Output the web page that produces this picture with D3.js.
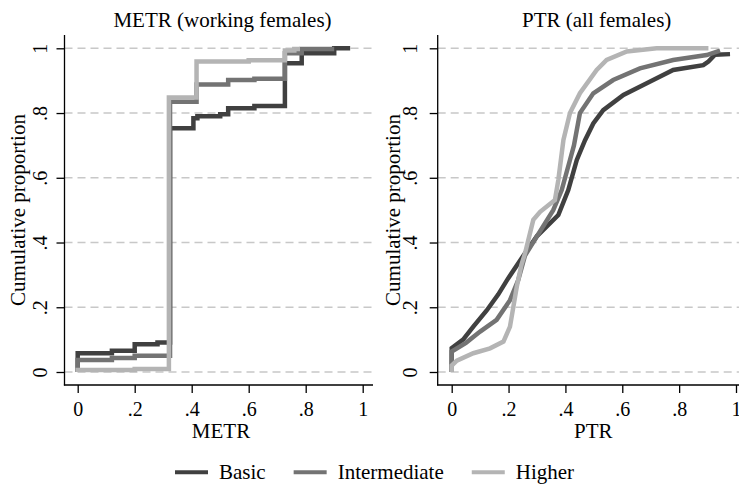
<!DOCTYPE html>
<html>
<head>
<meta charset="utf-8">
<script src="https://cdn.jsdelivr.net/npm/d3@7"></script>
<style>
  html, body { margin: 0; padding: 0; background: #fff; }
  svg { display: block; }
  svg text { font-family: 'Liberation Serif', 'DejaVu Serif', serif !important; fill: #000; }
</style>
</head>
<body>
<svg id="chart" width="739" height="486"></svg>
<script>
// ---------------- DATA ----------------
const seriesNames = ["Basic", "Intermediate", "Higher"];
const seriesColors = ["#404040", "#737373", "#b4b4b4"];
const tickValues = [0, 0.2, 0.4, 0.6, 0.8, 1];
const tickLabels = ["0", ".2", ".4", ".6", ".8", "1"];
const panelTitles = ["METR (working females)", "PTR (all females)"];
const xTitles = ["METR", "PTR"];
const yTitle = "Cumulative proportion";

// METR (working females) – empirical CDFs (step functions)
const metrBasicX = [0, 0, 0.12, 0.2, 0.28, 0.324, 0.406, 0.42, 0.5, 0.528, 0.62, 0.727, 0.786, 0.9, 0.956];
const metrBasicY = [0, 0.058, 0.066, 0.086, 0.091, 0.753, 0.784, 0.79, 0.796, 0.815, 0.822, 0.954, 0.985, 1.0, 1.0];
const metrInterX = [0, 0, 0.12, 0.2, 0.324, 0.417, 0.528, 0.62, 0.727, 0.786, 0.9];
const metrInterY = [0, 0.037, 0.043, 0.05, 0.835, 0.888, 0.902, 0.906, 0.985, 0.998, 0.998];
const metrHighX = [0, 0, 0.2, 0.32, 0.417, 0.6, 0.727, 0.76, 0.78];
const metrHighY = [0, 0.006, 0.009, 0.848, 0.959, 0.963, 0.993, 0.998, 0.998];

// PTR (all females) – empirical CDFs
const ptrBasicX = [0, 0, 0.04, 0.076, 0.123, 0.164, 0.199, 0.258, 0.30, 0.375, 0.41, 0.44, 0.469, 0.498, 0.533, 0.604, 0.686, 0.779, 0.885, 0.903, 0.926, 0.979];
const ptrBasicY = [0, 0.074, 0.1, 0.14, 0.19, 0.24, 0.29, 0.367, 0.42, 0.485, 0.562, 0.655, 0.716, 0.768, 0.809, 0.856, 0.892, 0.933, 0.948, 0.959, 0.98, 0.982];
const ptrInterX = [0, 0, 0.05, 0.1, 0.158, 0.205, 0.234, 0.258, 0.357, 0.387, 0.416, 0.43, 0.451, 0.498, 0.568, 0.662, 0.779, 0.897, 0.944];
const ptrInterY = [0, 0.063, 0.09, 0.125, 0.161, 0.222, 0.284, 0.36, 0.50, 0.562, 0.655, 0.70, 0.80, 0.861, 0.902, 0.938, 0.964, 0.979, 0.993];
const ptrHighX = [0, 0, 0.018, 0.076, 0.135, 0.182, 0.205, 0.217, 0.229, 0.245, 0.258, 0.287, 0.311, 0.363, 0.375, 0.393, 0.416, 0.451, 0.51, 0.545, 0.616, 0.721, 0.903];
const ptrHighY = [0, 0.02, 0.035, 0.058, 0.073, 0.094, 0.14, 0.202, 0.264, 0.33, 0.367, 0.47, 0.495, 0.531, 0.593, 0.717, 0.80, 0.861, 0.933, 0.964, 0.99, 1.0, 1.0];

const metrSeries = [[metrBasicX, metrBasicY], [metrInterX, metrInterY], [metrHighX, metrHighY]];
const ptrSeries = [[ptrBasicX, ptrBasicY], [ptrInterX, ptrInterY], [ptrHighX, ptrHighY]];

// ---------------- LAYOUT ----------------
const FONT = "'Liberation Serif', 'DejaVu Serif', serif";
const svg = d3.select("#chart");
const yTop = 35, yBottom = 385;
const y = d3.scaleLinear().domain([0, 1]).range([372, 48.3]);

const panels = [
  { series: metrSeries, curve: d3.curveStepAfter, axisX: 64.5, right: 373,
    range: [77.7, 362.7], titleX: 222.5, xTitleX: 221, yTitleX: 25, tickLabX: 47 },
  { series: ptrSeries, curve: d3.curveLinear, axisX: 437.7, right: 739,
    range: [451.7, 736], titleX: 596.7, xTitleX: 593.3, yTitleX: 400, tickLabX: 417 }
];

panels.forEach((p, pi) => {
  const x = d3.scaleLinear().domain([0, 1]).range(p.range);
  const g = svg.append("g");

  // grid lines
  g.selectAll("line.grid").data(tickValues).join("line")
    .attr("x1", p.axisX).attr("x2", p.right)
    .attr("y1", d => y(d)).attr("y2", d => y(d))
    .attr("stroke", "#c8c8c8").attr("stroke-width", 1.4)
    .attr("stroke-dasharray", "8,5");

  // series
  const line = d3.line().x(d => x(d[0])).y(d => y(d[1])).curve(p.curve);
  p.series.forEach((s, si) => {
    const pts = s[0].map((v, i) => [v, s[1][i]]);
    g.append("path").datum(pts)
      .attr("d", line)
      .attr("fill", "none")
      .attr("stroke", seriesColors[si])
      .attr("stroke-width", 4.5)
      .attr("stroke-linejoin", "miter")
      .attr("stroke-linecap", "butt");
  });

  // y axis
  const yAxis = d3.axisLeft(y).tickValues(tickValues)
    .tickFormat((d, i) => tickLabels[i]).tickSize(8).tickSizeOuter(0);
  const ya = g.append("g").attr("transform", `translate(${p.axisX},0)`).call(yAxis)
    .attr("font-family", FONT);
  ya.select(".domain").remove();
  ya.selectAll(".tick line").attr("stroke", "#000").attr("stroke-width", 1.3);
  ya.selectAll(".tick text")
    .attr("x", null).attr("dy", null)
    .attr("transform", `translate(${p.tickLabX - p.axisX},0) rotate(-90)`)
    .attr("text-anchor", "middle")
    .attr("font-family", FONT)
    .style("font-size", "20px");

  // x axis
  const xAxis = d3.axisBottom(x).tickValues(tickValues)
    .tickFormat((d, i) => tickLabels[i]).tickSize(8).tickSizeOuter(0);
  const xa = g.append("g").attr("transform", `translate(0,${yBottom})`).call(xAxis)
    .attr("font-family", FONT);
  xa.select(".domain").remove();
  xa.selectAll(".tick line").attr("stroke", "#000").attr("stroke-width", 1.3);
  xa.selectAll(".tick text")
    .attr("y", 31).attr("dy", null)
    .attr("font-family", FONT)
    .style("font-size", "20px");

  // axis lines
  g.append("line").attr("x1", p.axisX).attr("x2", p.axisX)
    .attr("y1", yTop).attr("y2", yBottom + 0.6)
    .attr("stroke", "#000").attr("stroke-width", 1.3);
  g.append("line").attr("x1", p.axisX - 0.6).attr("x2", p.right)
    .attr("y1", yBottom).attr("y2", yBottom)
    .attr("stroke", "#000").attr("stroke-width", 1.3);

  // titles
  g.append("text").attr("x", p.titleX).attr("y", 27).attr("font-family", FONT)
    .attr("text-anchor", "middle").style("font-size", "21px").text(panelTitles[pi]);
  g.append("text").attr("x", p.xTitleX).attr("y", 438).attr("font-family", FONT)
    .attr("text-anchor", "middle").style("font-size", "21px").text(xTitles[pi]);
  g.append("text").attr("font-family", FONT)
    .attr("transform", `translate(${p.yTitleX},210) rotate(-90)`)
    .attr("text-anchor", "middle").style("font-size", "21px").text(yTitle);
});

// legend
const legend = svg.append("g");
let lx = 175;
seriesNames.forEach((name, i) => {
  legend.append("line").attr("x1", lx).attr("x2", lx + 33)
    .attr("y1", 472.3).attr("y2", 472.3)
    .attr("stroke", seriesColors[i]).attr("stroke-width", 4);
  const t = legend.append("text").attr("x", lx + 44).attr("y", 478.5)
    .attr("font-family", FONT)
    .style("font-size", "21px").text(name);
  lx = lx + 44 + t.node().getComputedTextLength() + 28;
});
</script>
</body>
</html>
